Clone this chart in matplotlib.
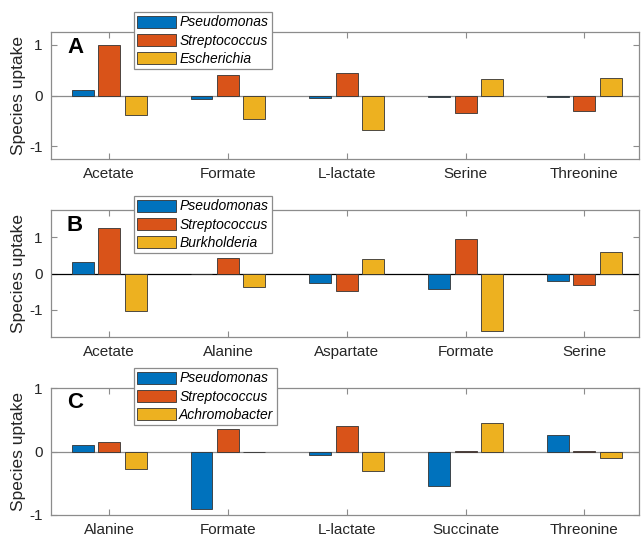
import numpy as np
import matplotlib
matplotlib.use("Agg")
import matplotlib.pyplot as plt

plt.rcParams['font.family'] = ['Liberation Sans', 'DejaVu Sans']
plt.rcParams['axes.unicode_minus'] = False

# panel data
cats_a = ["Acetate", "Formate", "L-lactate", "Serine", "Threonine"]
species_a = ["Pseudomonas", "Streptococcus", "Escherichia"]
pseudo_a = [0.11, -0.06, -0.05, -0.02, -0.02]
strep_a = [1.00, 0.41, 0.44, -0.35, -0.30]
third_a = [-0.38, -0.46, -0.67, 0.32, 0.35]

cats_b = ["Acetate", "Alanine", "Aspartate", "Formate", "Serine"]
species_b = ["Pseudomonas", "Streptococcus", "Burkholderia"]
pseudo_b = [0.32, 0.0, -0.25, -0.43, -0.22]
strep_b = [1.25, 0.42, -0.47, 0.94, -0.31]
third_b = [-1.03, -0.38, 0.39, -1.58, 0.60]

cats_c = ["Alanine", "Formate", "L-lactate", "Succinate", "Threonine"]
species_c = ["Pseudomonas", "Streptococcus", "Achromobacter"]
pseudo_c = [0.105, -0.91, -0.05, -0.54, 0.26]
strep_c = [0.15, 0.35, 0.40, 0.005, 0.005]
third_c = [-0.27, 0.0, -0.30, 0.45, -0.10]

colors = ['#0072BD', '#D95319', '#EDB120']
grey = '#8c8c8c'
txt = '#262626'

panels = [
    ("A", cats_a, species_a, [pseudo_a, strep_a, third_a], 1.25, grey, 159, 12),
    ("B", cats_b, species_b, [pseudo_b, strep_b, third_b], 1.75, 'black', 337, 196),
    ("C", cats_c, species_c, [pseudo_c, strep_c, third_c], 1.0, grey, 515, 368),
]

W, H = 641, 542
fig = plt.figure(figsize=(W / 100, H / 100), dpi=100)

x = np.arange(1, 6)
offs = [-0.223, 0, 0.223]
for letter, cats, species, series, lim, zcol, bot, legtop in panels:
    ax = fig.add_axes([51 / W, (H - bot) / H, 588 / W, 127 / H])
    handles = []
    for i, vals in enumerate(series):
        h = ax.bar(x + offs[i], vals, width=0.185, color=colors[i],
                   edgecolor='#333333', linewidth=0.6, zorder=3)
        handles.append(h)
    ax.axhline(0, color=zcol, lw=0.9, zorder=2)
    ax.set_xlim(0.51, 5.46)
    ax.set_ylim(-lim, lim)
    ax.set_yticks([-1, 0, 1])
    ax.set_xticks(x)
    ax.set_xticklabels(cats)
    ax.tick_params(direction='in', top=True, right=True, length=4,
                   color=grey, labelcolor=txt, labelsize=11, pad=6)
    for s in ax.spines.values():
        s.set_color(grey)
        s.set_linewidth(0.9)
    ax.set_ylabel("Species uptake", fontsize=12.5, color=txt, labelpad=2)
    ax.text(16 / 588, 1 - 15 / 127, letter, transform=ax.transAxes,
            fontsize=16, fontweight='bold', va='center', ha='left', color='black')
    leg = fig.legend(handles, species, loc='upper left',
                     bbox_to_anchor=(134 / W, 1 - legtop / H),
                     prop={'style': 'italic', 'size': 10},
                     handlelength=2.8, handleheight=0.95, handletextpad=0.2,
                     labelspacing=0.3, borderpad=0.25, borderaxespad=0,
                     fancybox=False, framealpha=1, edgecolor=grey)
    leg.get_frame().set_linewidth(0.9)

fig.savefig("out.png", dpi=100)
